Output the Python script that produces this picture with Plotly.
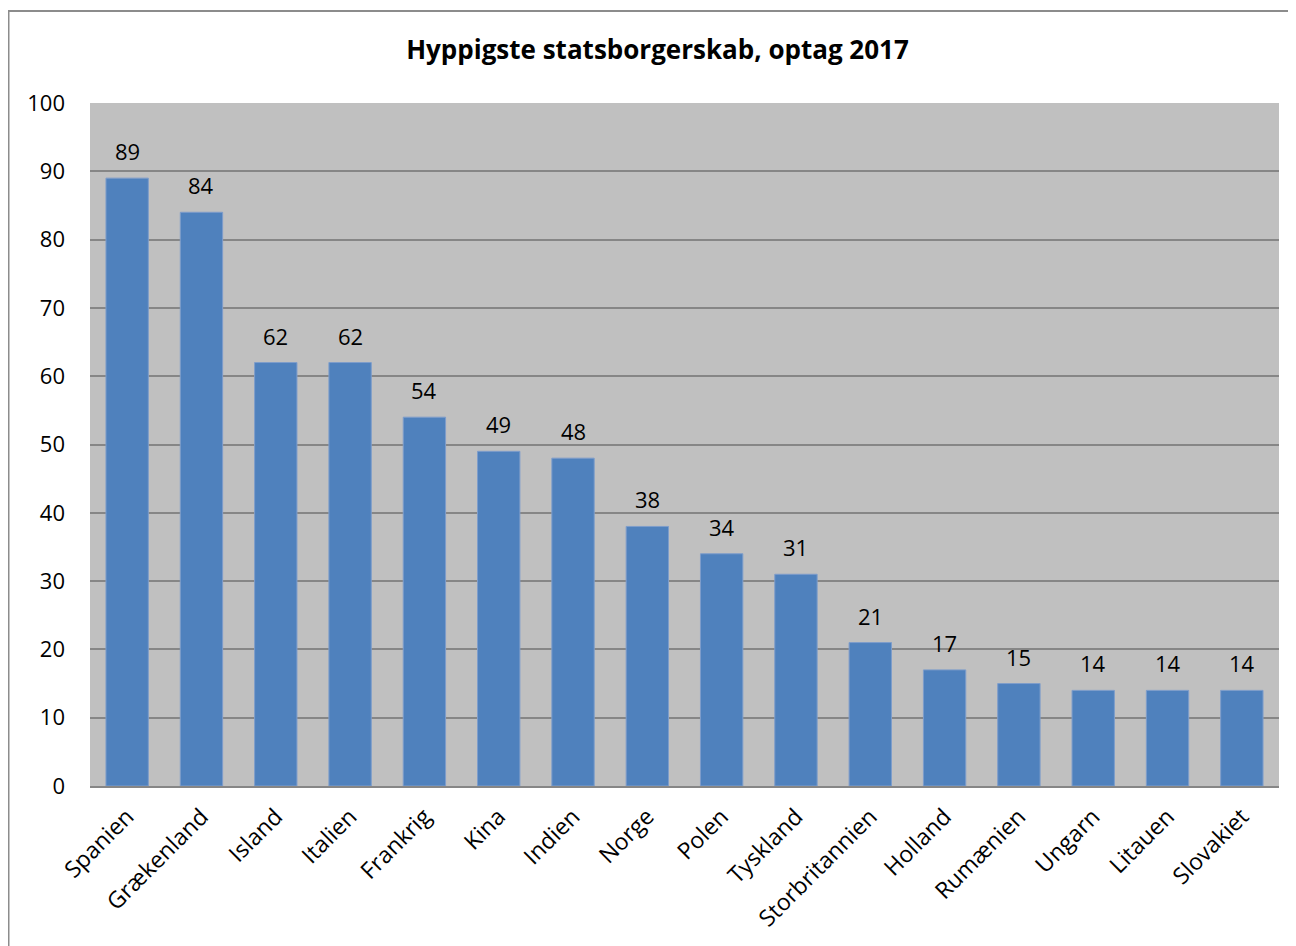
"""Most frequent citizenships among 2017 admissions, as an Excel-style bar chart."""

import plotly.graph_objects as go

countries = [
    "Spanien", "Grækenland", "Island", "Italien", "Frankrig", "Kina", "Indien",
    "Norge", "Polen", "Tyskland", "Storbritannien", "Holland", "Rumænien",
    "Ungarn", "Litauen", "Slovakiet",
]
admitted = [89, 84, 62, 62, 54, 49, 48, 38, 34, 31, 21, 17, 15, 14, 14, 14]
y_ticks = list(range(0, 101, 10))

# the page body has an 8px margin, so the figure is drawn 8px in from the corner
W, H = 1288, 938
L, R, T, B = 82, 17, 95, 160
FONT = "Open Sans"


def px_x(px):
    return (px - L) / (W - L - R)


def px_y(py):
    return (H - B - py) / (H - T - B)


fig = go.Figure()
fig.add_trace(
    go.Bar(
        x=countries, y=admitted,
        marker=dict(color="#4F81BD", line=dict(color="#7E9DCB", width=1)),
        hoverinfo="x+y",
    )
)

# value labels sit a bit above each bar, like Excel's data labels
for name, val in zip(countries, admitted):
    fig.add_annotation(
        x=name, y=val, text=str(val), showarrow=False,
        yanchor="bottom", yshift=10,
        font=dict(size=22, family=FONT, color="black"),
    )

# outer frame around the whole chart
fig.add_shape(
    type="rect", xref="paper", yref="paper",
    x0=px_x(0.5), x1=px_x(1286), y0=px_y(H + 10), y1=px_y(3),
    line=dict(color="#8C8C8C", width=2), fillcolor="rgba(0,0,0,0)", layer="below",
)

fig.update_layout(
    width=W, height=H,
    margin=dict(l=L, r=R, t=T, b=B, autoexpand=False),
    paper_bgcolor="white",
    plot_bgcolor="#C0C0C0",
    showlegend=False,
    bargap=0.43,
    font=dict(family=FONT, size=22, color="black"),
    title=dict(
        text="<b>Hyppigste statsborgerskab, optag 2017</b>",
        x=649.5 / W, xref="container", xanchor="center",
        y=1 - 42 / H, yanchor="middle",
        font=dict(size=26, family=FONT, color="black"),
    ),
    xaxis=dict(
        tickangle=-45, showgrid=False, ticks="",
        showline=True, linecolor="#868686", linewidth=2,
        ticklabelstandoff=6,
        tickfont=dict(size=23, family=FONT),
    ),
    yaxis=dict(
        range=[0, 100], tickvals=y_ticks, ticks="",
        showgrid=True, gridcolor="#868686", gridwidth=2,
        zeroline=False, showline=False,
        ticklabelstandoff=24,
        tickfont=dict(size=22, family=FONT),
    ),
)

fig.write_html("out.html")
